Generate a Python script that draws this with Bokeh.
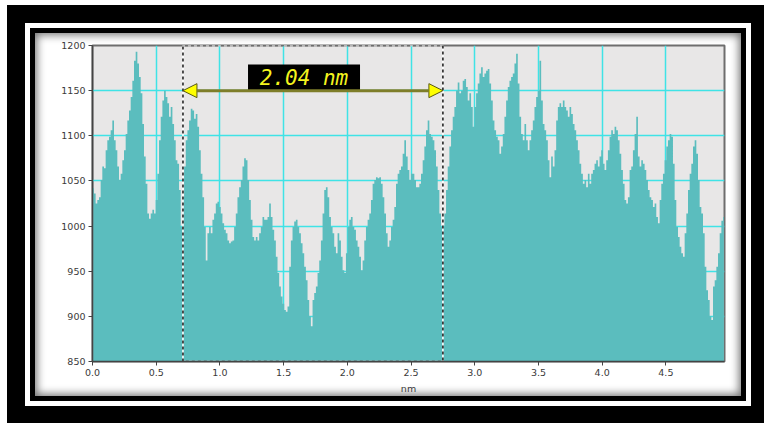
import numpy as np
from bokeh.plotting import figure
from bokeh.models import Range1d, Arrow, NormalHead, FixedTicker, ColumnDataSource, NumeralTickFormatter
from bokeh.core.properties import value
from bokeh.embed import file_html
from bokeh.resources import INLINE

# ---- data: height profile ----
x_start = 0.005
x_end = 4.955
heights = [
    1042, 1036, 1025, 1029, 1032, 1051, 1066, 1064, 1084, 1095, 1099, 1106, 1117, 1095, 1084, 1066,
    1051, 1058, 1073, 1084, 1102, 1117, 1128, 1143, 1161, 1183, 1193, 1180, 1165, 1147, 1113, 1077,
    1047, 1014, 1008, 1014, 1018, 1014, 1029, 1058, 1095, 1121, 1139, 1150, 1143, 1136, 1121, 1132,
    1113, 1095, 1073, 1069, 1040, 999, 1032, 1066, 1095, 1106, 1117, 1130, 1128, 1119, 1124, 1110,
    1084, 1058, 1032, 999, 962, 992, 999, 992, 1007, 1014, 1025, 1027, 1021, 1014, 1003, 996,
    992, 984, 981, 983, 984, 999, 1014, 1032, 1043, 1051, 1066, 1075, 1073, 1051, 1029, 1007,
    988, 984, 988, 984, 992, 999, 1010, 1007, 1007, 1010, 1025, 1010, 996, 984, 966, 948,
    933, 922, 914, 907, 905, 911, 955, 984, 999, 1005, 1007, 999, 992, 981, 970, 955,
    940, 918, 900, 889, 918, 926, 933, 948, 962, 984, 1014, 1040, 1043, 1032, 1010, 999,
    992, 977, 970, 992, 984, 966, 951, 948, 970, 999, 1007, 1010, 999, 996, 984, 977,
    966, 951, 962, 984, 999, 1007, 1014, 1029, 1047, 1051, 1054, 1053, 1054, 1047, 1032, 1014,
    992, 977, 984, 999, 1007, 1021, 1047, 1058, 1062, 1066, 1080, 1095, 1077, 1062, 1051, 1058,
    1058, 1051, 1043, 1043,
    1047, 1058, 1073, 1088, 1106, 1117, 1102, 1099, 1095, 1084, 1066, 1040, 1014, 999, 999, 1014,
    1040, 1066, 1088, 1106, 1121, 1132, 1150, 1159, 1147, 1150, 1161, 1163, 1154, 1139, 1147, 1132,
    1110, 1132, 1147, 1158, 1169, 1176, 1165, 1169, 1172, 1174, 1158, 1139, 1117, 1106, 1099, 1095,
    1080, 1088, 1102, 1121, 1139, 1154, 1161, 1165, 1169, 1180, 1191, 1158, 1121, 1102, 1095, 1113,
    1095, 1084, 1095, 1106, 1117, 1132, 1143, 1150, 1183, 1139, 1113, 1106, 1095, 1073, 1054, 1077,
    1066, 1084, 1117, 1132, 1136, 1132, 1139, 1132, 1128, 1121, 1132, 1124, 1113, 1106, 1095, 1084,
    1069, 1058, 1047, 1051, 1043, 1058, 1047, 1058, 1062, 1069, 1073, 1066, 1077, 1084, 1069, 1062,
    1073, 1084, 1099, 1106, 1102, 1110, 1106, 1095, 1080, 1062, 1047, 1029, 1025, 1032, 1062, 1066,
    1084, 1102, 1121, 1077, 1066, 1073, 1069, 1062, 1051, 1040, 1032, 1029, 1021, 1025, 1010, 1003,
    1029, 1047, 1058, 1073, 1088, 1095, 1102, 1099, 1069, 1029, 999, 988, 977, 970, 966, 992,
    1014, 1040, 1058, 1069, 1088, 1095, 1080, 1051, 1021, 1014, 992, 955, 929, 918, 900, 896,
    933, 940, 955, 970, 992, 1006, 1010,
]
x_ticks = [0.0, 0.5, 1.0, 1.5, 2.0, 2.5, 3.0, 3.5, 4.0, 4.5]
y_ticks = [850, 900, 950, 1000, 1050, 1100, 1150, 1200]
x_min, x_max = 0.0, 4.96
y_min, y_max = 850, 1200

# measurement markers
marker_start = 0.71
marker_end = 2.75
marker_level = 1150
label_x = 1.66
label_y = 1164
label_text = f"{marker_end - marker_start:.2f} nm"

n = len(heights)
xs = np.linspace(x_start, x_end, n)

p = figure(
    width=706, height=363,
    x_range=Range1d(x_min, x_max), y_range=Range1d(y_min, y_max),
    output_backend="svg", toolbar_location=None,
    min_border_left=57, min_border_right=17, min_border_top=12, min_border_bottom=35,
    margin=(33, 0, 0, 35),
)
p.styles = {
    "background-color": "white",
    "box-shadow": "inset 0 0 9px 2px rgba(0,0,0,0.55), 0 0 0 5px black, 0 0 0 10px white, 0 0 0 28px black",
}
p.border_fill_color = None
p.background_fill_color = "#e8e7e7"
p.outline_line_color = "#6e6e6e"
p.outline_line_width = 2

# grid
for g in (p.xgrid, p.ygrid):
    g.grid_line_color = "#3fe3e6"
    g.grid_line_width = 1.5
p.xgrid.ticker = FixedTicker(ticks=x_ticks)
p.ygrid.ticker = FixedTicker(ticks=y_ticks)

# axes
p.xaxis.ticker = FixedTicker(ticks=x_ticks)
p.yaxis.ticker = FixedTicker(ticks=y_ticks)
p.xaxis.formatter = NumeralTickFormatter(format="0.0")
p.xaxis.axis_label = "nm"
for ax in (p.xaxis[0], p.yaxis[0]):
    ax.major_label_text_font = "DejaVu Sans"
    ax.major_label_text_font_size = "9.5px"
    ax.major_label_text_color = "#3a3a3a"
    ax.axis_line_color = "#444444"
    ax.axis_line_width = 1.5
    ax.major_tick_line_color = "#444444"
    ax.major_tick_in = 0
    ax.major_tick_out = 4
    ax.minor_tick_line_color = None
    ax.major_label_standoff = 3
p.xaxis.axis_label_text_font = "DejaVu Sans"
p.xaxis.axis_label_text_font_size = "9.5px"
p.xaxis.axis_label_text_font_style = "normal"
p.xaxis.axis_label_text_color = "#3a3a3a"
p.xaxis.axis_label_standoff = 4

# profile
src = ColumnDataSource(dict(x=xs, top=heights, base=[y_min] * n))
p.varea_step(x="x", y1="base", y2="top", source=src, step_mode="center",
             fill_color="#5bbdbe")

# dashed measurement box
box_x = [marker_start, marker_start, marker_end, marker_end, marker_start]
box_y = [y_min, y_max, y_max, y_min, y_min]
p.line(box_x, box_y, line_color="white", line_width=1.6)
p.line(box_x, box_y, line_color="#222222", line_width=1.6, line_dash="3 3")

# double arrow
p.add_layout(Arrow(
    x_start=marker_start, y_start=marker_level, x_end=marker_end, y_end=marker_level,
    line_color="#7e7e2a", line_width=3,
    start=NormalHead(size=14, fill_color="#ffff00", line_color="#5a5a10", line_width=1),
    end=NormalHead(size=14, fill_color="#ffff00", line_color="#5a5a10", line_width=1),
))

# label box + text
p.rect(x=[label_x], y=[label_y], width=112, height=27, width_units="screen",
       height_units="screen", fill_color="black", line_color=None)
p.text(x=[label_x], y=[label_y], text=[label_text], text_align="center",
       text_baseline="middle", text_font=value("DejaVu Sans Mono"),
       text_font_style="italic", text_font_size="21px", text_color="#f4f41e")

open("out.html", "w").write(file_html(p, INLINE))
